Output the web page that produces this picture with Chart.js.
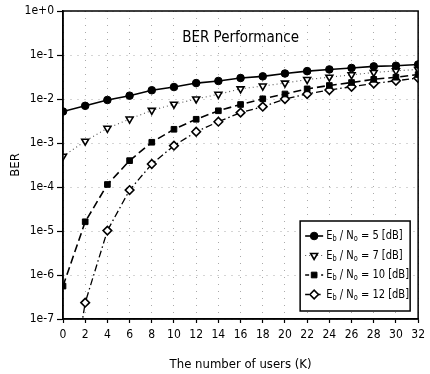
<!DOCTYPE html>
<html>
<head>
<meta charset="utf-8">
<script src="https://cdn.jsdelivr.net/npm/chart.js@4/dist/chart.umd.min.js"></script>
<style>
  html, body { margin: 0; padding: 0; background: #fff; }
  #wrap { width: 430px; height: 374px; position: relative; }
</style>
</head>
<body>
<div id="wrap"><canvas id="c" width="430" height="374"></canvas></div>
<script>
// ---- data ----
const users = [0, 2, 4, 6, 8, 10, 12, 14, 16, 18, 20, 22, 24, 26, 28, 30, 32];
const ber5dB  = [5.2e-3, 7.0e-3, 9.5e-3, 1.19e-2, 1.58e-2, 1.87e-2, 2.3e-2, 2.57e-2, 3.0e-2, 3.27e-2, 3.8e-2, 4.3e-2, 4.7e-2, 5.07e-2, 5.5e-2, 5.7e-2, 6.1e-2];
const ber7dB  = [5.0e-4, 1.1e-3, 2.16e-3, 3.5e-3, 5.5e-3, 7.6e-3, 1.0e-2, 1.28e-2, 1.7e-2, 1.97e-2, 2.3e-2, 2.77e-2, 3.13e-2, 3.55e-2, 4.0e-2, 4.37e-2, 4.7e-2];
const ber10dB = [5.6e-7, 1.62e-5, 1.14e-4, 3.97e-4, 1.04e-3, 2.05e-3, 3.46e-3, 5.4e-3, 7.5e-3, 1.01e-2, 1.3e-2, 1.7e-2, 2.03e-2, 2.37e-2, 2.8e-2, 3.13e-2, 3.6e-2];
const ber12dB = [1.6e-10, 2.35e-7, 1.02e-5, 8.5e-5, 3.33e-4, 8.7e-4, 1.8e-3, 3.05e-3, 4.9e-3, 6.7e-3, 1.0e-2, 1.3e-2, 1.6e-2, 1.9e-2, 2.25e-2, 2.6e-2, 3.0e-2];
const seriesSnr = ['5', '7', '10', '12'];
const yTickValues = [1e-7, 1e-6, 1e-5, 1e-4, 1e-3, 1e-2, 1e-1, 1];
const yTickLabels = ['1e-7', '1e-6', '1e-5', '1e-4', '1e-3', '1e-2', '1e-1', '1e+0'];
const xTickStep = 2;
const chartTitle = 'BER Performance';
const xTitle = 'The number of users (K)';
const yTitle = 'BER';

const FONT = "'Liberation Sans Narrow', 'Arial Narrow', 'DejaVu Sans Condensed', 'Liberation Sans', Arial, sans-serif";

function pts(ys) { return users.map((x, i) => ({ x: x, y: ys[i] })); }

const datasets = [
  { label: seriesSnr[0], data: pts(ber5dB), borderColor: '#000', backgroundColor: '#000',
    borderWidth: 1.6, borderDash: [], pointStyle: 'circle', pointRadius: 3.8,
    pointBackgroundColor: '#000', pointBorderColor: '#000', pointBorderWidth: 1, pointRotation: 0 },
  { label: seriesSnr[1], data: pts(ber7dB), borderColor: '#555', backgroundColor: '#fff',
    borderWidth: 1.1, borderDash: [1, 3], pointStyle: 'triangle', pointRadius: 4,
    pointBackgroundColor: '#fff', pointBorderColor: '#000', pointBorderWidth: 1.6, pointRotation: 180 },
  { label: seriesSnr[2], data: pts(ber10dB), borderColor: '#000', backgroundColor: '#000',
    borderWidth: 1.6, borderDash: [8, 4], pointStyle: 'rect', pointRadius: 4,
    pointBackgroundColor: '#000', pointBorderColor: '#000', pointBorderWidth: 1, pointRotation: 0 },
  { label: seriesSnr[3], data: pts(ber12dB), borderColor: '#000', backgroundColor: '#fff',
    borderWidth: 1.3, borderDash: [7, 3, 1.5, 3], pointStyle: 'rectRot', pointRadius: 4.3,
    pointBackgroundColor: '#fff', pointBorderColor: '#000', pointBorderWidth: 1.6, pointRotation: 0 }
];
datasets.forEach(d => { d.fill = false; d.tension = 0; d.clip = 0; });

const framePlugin = {
  id: 'frame',
  afterDatasetsDraw(chart) {
    const { ctx, chartArea: a } = chart;
    ctx.save();
    ctx.strokeStyle = '#000';
    ctx.lineWidth = 1.5;
    ctx.strokeRect(a.left, a.top, a.right - a.left, a.bottom - a.top);
    ctx.fillStyle = '#000';
    ctx.font = "15px " + FONT;
    ctx.textAlign = 'center';
    ctx.textBaseline = 'middle';
    ctx.fillText(chartTitle, (a.left + a.right) / 2, a.top + 27);
    ctx.restore();
  },
  afterDraw(chart) {
    const { ctx, chartArea: a } = chart;
    const boxW = 110, rowH = 19.5, boxH = 90;
    const bx = a.right - 8 - boxW, by = a.bottom - 8 - boxH;
    ctx.save();
    ctx.fillStyle = '#fff';
    ctx.fillRect(bx, by, boxW, boxH);
    ctx.strokeStyle = '#000';
    ctx.lineWidth = 1.5;
    ctx.strokeRect(bx, by, boxW, boxH);
    chart.data.datasets.forEach((ds, i) => {
      const cy = by + 15 + i * rowH;
      const x0 = bx + 5, x1 = bx + 23;
      ctx.save();
      ctx.strokeStyle = ds.borderColor;
      ctx.lineWidth = ds.borderWidth;
      ctx.setLineDash(ds.borderDash.length ? ds.borderDash.map(v => Math.min(v, 4)) : []);
      ctx.beginPath(); ctx.moveTo(x0, cy); ctx.lineTo(x1, cy); ctx.stroke();
      ctx.setLineDash([]);
      ctx.fillStyle = ds.pointBackgroundColor;
      ctx.strokeStyle = ds.pointBorderColor;
      ctx.lineWidth = ds.pointBorderWidth;
      Chart.helpers.drawPoint(ctx, { pointStyle: ds.pointStyle, rotation: ds.pointRotation,
        radius: ds.pointRadius, borderWidth: ds.pointBorderWidth }, (x0 + x1) / 2, cy);
      ctx.restore();
      // label with subscripts: E_b / N_o = X [dB]
      ctx.save();
      const tx0 = bx + 26;
      ctx.translate(tx0, cy);
      ctx.scale(0.92, 1);
      ctx.fillStyle = '#000';
      ctx.textBaseline = 'middle';
      ctx.textAlign = 'left';
      let tx = 0;
      const big = "12px " + FONT, small = "8px " + FONT;
      const parts = [['E', big, 0], ['b', small, 3], [' / N', big, 0], ['o', small, 3], [' = ' + ds.label + ' [dB]', big, 0]];
      parts.forEach(p => {
        ctx.font = p[1];
        ctx.fillText(p[0], tx, p[2]);
        tx += ctx.measureText(p[0]).width;
      });
      ctx.restore();
    });
    ctx.restore();
  }
};

new Chart(document.getElementById('c'), {
  type: 'line',
  data: { datasets: datasets },
  plugins: [framePlugin],
  options: {
    responsive: false,
    animation: false,
    layout: { padding: { top: 11, right: 8, left: 0, bottom: 0 } },
    plugins: { legend: { display: false }, title: { display: false }, tooltip: { enabled: false } },
    scales: {
      x: {
        type: 'linear', min: 0, max: 32,
        ticks: { stepSize: xTickStep, color: '#000', font: { family: FONT, size: 12 }, padding: 5, maxRotation: 0 },
        grid: { color: '#aaa', lineWidth: 1, tickLength: 4, tickColor: '#000', tickBorderDash: [], tickWidth: 1.2 },
        border: { display: true, color: '#000', width: 1.5, dash: [1, 6] },
        title: { display: true, text: xTitle, color: '#000', font: { family: FONT, size: 13 }, padding: { top: 0, bottom: 2 } },
        afterFit(s) { s.height = 55; }
      },
      y: {
        type: 'logarithmic', min: 1e-7, max: 1,
        afterBuildTicks(s) { s.ticks = yTickValues.map(v => ({ value: v })); },
        ticks: { color: '#000', font: { family: FONT, size: 12 }, padding: 3,
          callback: (v) => { const i = yTickValues.findIndex(t => Math.abs(Math.log10(t) - Math.log10(v)) < 1e-6); return i >= 0 ? yTickLabels[i] : ''; } },
        grid: { color: '#aaa', lineWidth: 1, tickLength: 6, tickColor: '#000', tickBorderDash: [], tickWidth: 1.2 },
        border: { display: true, color: '#000', width: 1.5, dash: [1, 6] },
        title: { display: true, text: yTitle, color: '#000', font: { family: FONT, size: 13 }, padding: { top: 8, bottom: 0 } },
        afterFit(s) { s.width = 63; }
      }
    }
  }
});
</script>
</body>
</html>
